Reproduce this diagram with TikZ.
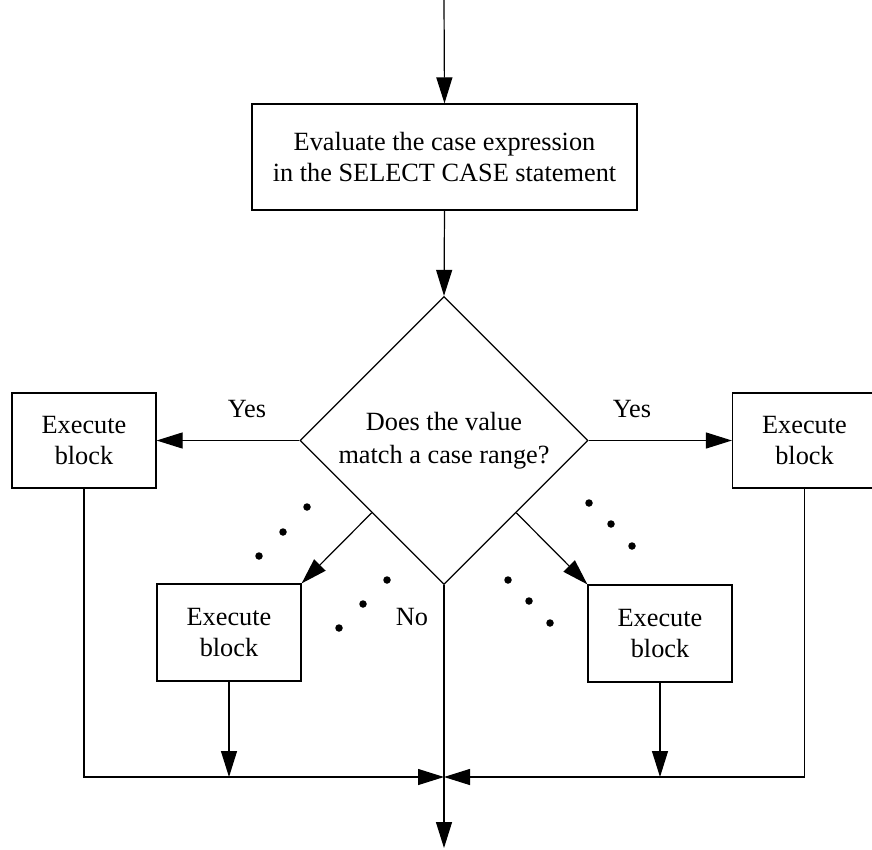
\documentclass[tikz,border=0pt]{standalone}
\usepackage{fontspec}
\setmainfont{Liberation Serif}
\usetikzlibrary{shapes.geometric,arrows.meta,calc}

\tikzset{
  flow/.style={line width=1.2pt,-{Triangle[length=26pt,width=16pt]}},
  procbox/.style={draw,line width=1.2pt,rectangle,inner sep=0pt,align=center,
    font=\fontsize{26.3}{31}\selectfont},
  decision/.style={draw,line width=1.2pt,diamond,aspect=1,inner sep=0pt,
    minimum width=288pt,minimum height=288pt,align=center,
    font=\fontsize{26.3}{33}\selectfont},
  lbl/.style={inner sep=0pt,font=\fontsize{26.3}{30}\selectfont},
  dot/.style={circle,fill=black,inner sep=0pt,minimum size=7.5pt}
}

\begin{document}
\begin{tikzpicture}[x=1pt,y=-1pt]
\useasboundingbox (0,0) rectangle (872,849);

% main nodes
\node[procbox,minimum width=385pt,minimum height=106pt] (eval) at (444.5,157)
  {Evaluate the case expression\\in the SELECT CASE statement};
\node[decision] (match) at (444,440.5) {Does the value\\match a case range?};

\node[procbox,minimum width=144pt,minimum height=95pt] (left) at (84,440.5)
  {Execute\\block};
\node[procbox,minimum width=144pt,minimum height=95pt] (right) at (804.5,440.5)
  {Execute\\block};
\node[procbox,minimum width=144pt,minimum height=97pt] (lowleft) at (229,632.5)
  {Execute\\block};
\node[procbox,minimum width=144pt,minimum height=97pt] (lowright) at (660,633.5)
  {Execute\\block};

% free ends and junctions
\coordinate (entry) at (444,0);
\coordinate (join) at (444,777);
\coordinate (exit) at (444,848);
\coordinate (sw) at ($(match.west)!0.5!(match.south)$);
\coordinate (se) at ($(match.east)!0.5!(match.south)$);

% labels
\node[lbl] (yesl) at (247,409) {Yes};
\node[lbl] (yesr) at (632,409) {Yes};
\node[lbl] (no) at (412,617) {No};

% connectors
\draw[flow] (entry) -- (eval.north);
\draw[flow] (eval.south) -- (match.north);
\draw[flow] (match.west) -- (left.east);
\draw[flow] (match.east) -- (right.west);
\draw[flow] (sw) -- (lowleft.north east);
\draw[flow] (se) -- (lowright.north west);
\draw[flow] (match.south) -- (exit);

\draw[flow] (left.south) |- (join);
\draw[flow] (right.south) |- (join);
\draw[flow] (lowleft.south) -- (lowleft.south |- join);
\draw[flow] (lowright.south) -- (lowright.south |- join);

% ellipses marking further cases
\foreach \x/\y in {307/507, 283/532, 259/556,
                   387/580, 363/604, 339/628,
                   589/503, 611/524, 632/546,
                   508/580, 529/601, 550/623}
  \node[dot] at (\x,\y) {};
\end{tikzpicture}
\end{document}
